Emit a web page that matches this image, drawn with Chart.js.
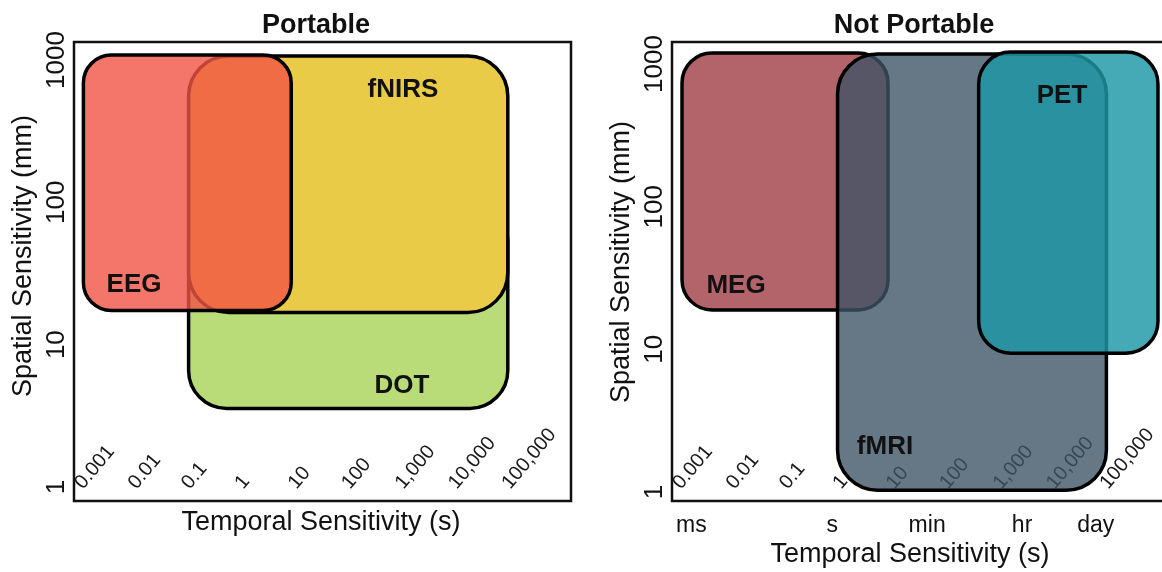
<!DOCTYPE html>
<html><head><meta charset="utf-8">
<script src="https://cdn.jsdelivr.net/npm/chart.js@4.4.1/dist/chart.umd.min.js"></script>
<style>
html,body{margin:0;padding:0;background:#fff;overflow:hidden;width:1162px;height:572px;}
.panel{position:absolute;top:0;}
</style></head><body>
<div class="panel" style="left:0;width:580px;height:572px"><canvas id="cL" width="580" height="572"></canvas></div>
<div class="panel" style="left:580px;width:660px;height:572px"><canvas id="cR" width="660" height="572"></canvas></div>
<script>
// ---------- data ----------
const xTickValues = [0.001, 0.01, 0.1, 1, 10, 100, 1000, 10000, 100000];
const xTickLabels = ['0.001', '0.01', '0.1', '1', '10', '100', '1,000', '10,000', '100,000'];
const yTickValues = [1, 10, 100, 1000];
const yTickLabels = ['1', '10', '100', '1000'];
const timeUnitValues = [0.001, 1, 60, 3600, 86400];
const timeUnitLabels = ['ms', 's', 'min', 'hr', 'day'];

// Portable panel (drawn bottom to top)
const portableNames = ['DOT', 'fNIRS', 'EEG'];
const portableTemporalMin = [0.14, 0.14, 0.0015];
const portableTemporalMax = [133000, 133000, 11.7];
const portableSpatialMin = [3.56, 16.8, 17.4];
const portableSpatialMax = [100, 1067, 1084];
const portableLabelTemporal = [1387, 1449, 0.0133];
const portableLabelSpatial = [4.58, 550, 23.4];

// Not Portable panel (drawn bottom to top)
const notPortableNames = ['MEG', 'fMRI', 'PET'];
const notPortableTemporalMin = [0.00154, 1.26, 553];
const notPortableTemporalMax = [11.1, 136500, 1262000];
const notPortableSpatialMin = [18.9, 1.03, 9.4];
const notPortableSpatialMax = [1194, 1175, 1213];
const notPortableLabelTemporal = [0.0158, 9.75, 20100];
const notPortableLabelSpatial = [24.8, 1.85, 533];

// ---------- styles ----------
const portableFill = ['#B9DC78', '#E9CB48', 'rgba(241,84,69,0.8)'];
const portableRadius = [38, 40, 28];
const notPortableFill = ['#B3646A', 'rgba(61,82,101,0.79)', 'rgba(28,151,165,0.82)'];
const notPortableRadius = [30, 40, 32];
const FONT = '"Liberation Sans", Arial, Helvetica, sans-serif';

const panelPlugin = {
  id: 'panel',
  beforeDatasetsDraw(chart) {
    const o = chart.options.plugins.panel;
    const {ctx, chartArea: a, scales: {x}} = chart;
    ctx.save();
    // frame
    ctx.strokeStyle = '#111';
    ctx.lineWidth = 2.5;
    ctx.strokeRect(a.left, a.top, a.right - a.left, a.bottom - a.top);
    // numeric temporal ticks, rotated, inside plot
    ctx.fillStyle = '#1a1a1a';
    ctx.font = '20px ' + FONT;
    ctx.textAlign = 'left';
    ctx.textBaseline = 'alphabetic';
    xTickValues.forEach((v, i) => {
      const px = x.getPixelForValue(v) + 9;
      ctx.save();
      ctx.translate(px, a.bottom - 11);
      ctx.rotate(-50 * Math.PI / 180);
      ctx.fillText(xTickLabels[i], 0, 0);
      ctx.restore();
    });
    ctx.restore();
  },
  afterDatasetsDraw(chart) {
    const o = chart.options.plugins.panel;
    const {ctx, scales: {x, y}} = chart;
    ctx.save();
    chart.data.datasets.forEach((ds, i) => {
      const meta = chart.getDatasetMeta(i);
      const p0 = meta.data[0], p1 = meta.data[1];
      const l = Math.min(p0.x, p1.x), r = Math.max(p0.x, p1.x);
      const t = Math.min(p0.y, p1.y), b = Math.max(p0.y, p1.y);
      ctx.beginPath();
      ctx.roundRect(l, t, r - l, b - t, ds.cornerRadius);
      ctx.fillStyle = ds.backgroundColor;
      ctx.fill();
      ctx.lineWidth = ds.borderWidth;
      ctx.strokeStyle = ds.borderColor;
      ctx.stroke();
    });
    // box names
    ctx.fillStyle = '#111';
    ctx.font = 'bold 26px ' + FONT;
    ctx.textAlign = 'center';
    ctx.textBaseline = 'alphabetic';
    o.names.forEach((n, i) => {
      ctx.fillText(n, x.getPixelForValue(o.labelX[i]), y.getPixelForValue(o.labelY[i]));
    });
    ctx.restore();
  },
  afterDraw(chart) {
    const o = chart.options.plugins.panel;
    const {ctx, chartArea: a, scales: {x, y}} = chart;
    ctx.save();
    ctx.fillStyle = '#111';
    // panel title
    ctx.font = 'bold 27px ' + FONT;
    ctx.textAlign = 'center';
    ctx.textBaseline = 'alphabetic';
    ctx.fillText(o.title, o.titleX, 33);
    // y tick labels, rotated
    ctx.font = '26px ' + FONT;
    yTickValues.forEach((v, i) => {
      ctx.save();
      ctx.translate(a.left - 10, y.getPixelForValue(v));
      ctx.rotate(-Math.PI / 2);
      ctx.fillText(yTickLabels[i], 0, 0);
      ctx.restore();
    });
    // y title
    ctx.font = '27px ' + FONT;
    ctx.save();
    ctx.translate(o.yTitleX, o.yTitleY);
    ctx.rotate(-Math.PI / 2);
    ctx.fillText('Spatial Sensitivity (mm)', 0, 0);
    ctx.restore();
    // x title
    ctx.fillText('Temporal Sensitivity (s)', o.xTitleX, o.xTitleY);
    // time unit labels
    if (o.units) {
      ctx.font = '23px ' + FONT;
      timeUnitValues.forEach((v, i) => {
        const w = ctx.measureText(timeUnitLabels[i]).width;
        const px = Math.max(x.getPixelForValue(v), a.left + w / 2 + 4);
        ctx.fillText(timeUnitLabels[i], px, 532);
      });
    }
    ctx.restore();
  }
};

function makePanel(id, p) {
  const datasets = p.names.map((n, i) => ({
    label: n,
    data: [{x: p.tmin[i], y: p.smin[i]}, {x: p.tmax[i], y: p.smax[i]}],
    backgroundColor: p.fill[i],
    borderColor: '#000',
    borderWidth: 3.5,
    cornerRadius: p.radius[i],
    pointRadius: 0,
    pointHoverRadius: 0,
    showLine: false
  }));
  return new Chart(document.getElementById(id), {
    type: 'scatter',
    data: {datasets},
    options: {
      responsive: false,
      animation: false,
      devicePixelRatio: 1,
      layout: {padding: p.padding},
      scales: {
        x: {type: 'logarithmic', display: false, min: 0.001, max: p.xMax},
        y: {type: 'logarithmic', display: false, min: p.yMin, max: p.yMax}
      },
      plugins: {
        legend: {display: false},
        tooltip: {enabled: false},
        panel: {
          names: p.names, labelX: p.labelX, labelY: p.labelY,
          title: p.title, titleX: p.titleX,
          yTitleX: p.yTitleX, yTitleY: p.yTitleY,
          xTitleX: p.xTitleX, xTitleY: p.xTitleY,
          units: p.units
        }
      }
    },
    plugins: [panelPlugin]
  });
}

makePanel('cL', {
  names: portableNames, tmin: portableTemporalMin, tmax: portableTemporalMax,
  smin: portableSpatialMin, smax: portableSpatialMax,
  labelX: portableLabelTemporal, labelY: portableLabelSpatial,
  fill: portableFill, radius: portableRadius,
  padding: {left: 74, top: 42, right: 9, bottom: 71},
  xMax: 2.03e6, yMin: 0.797, yMax: 1338,
  title: 'Portable', titleX: 316,
  yTitleX: 31, yTitleY: 256, xTitleX: 321, xTitleY: 530,
  units: false
});

makePanel('cR', {
  names: notPortableNames, tmin: notPortableTemporalMin, tmax: notPortableTemporalMax,
  smin: notPortableSpatialMin, smax: notPortableSpatialMax,
  labelX: notPortableLabelTemporal, labelY: notPortableLabelSpatial,
  fill: notPortableFill, radius: notPortableRadius,
  padding: {left: 92, top: 42, right: 20, bottom: 71},
  xMax: 1.83e7, yMin: 0.865, yMax: 1427,
  title: 'Not Portable', titleX: 334,
  yTitleX: 49, yTitleY: 262, xTitleX: 330, xTitleY: 562,
  units: true
});
</script>
</body></html>
